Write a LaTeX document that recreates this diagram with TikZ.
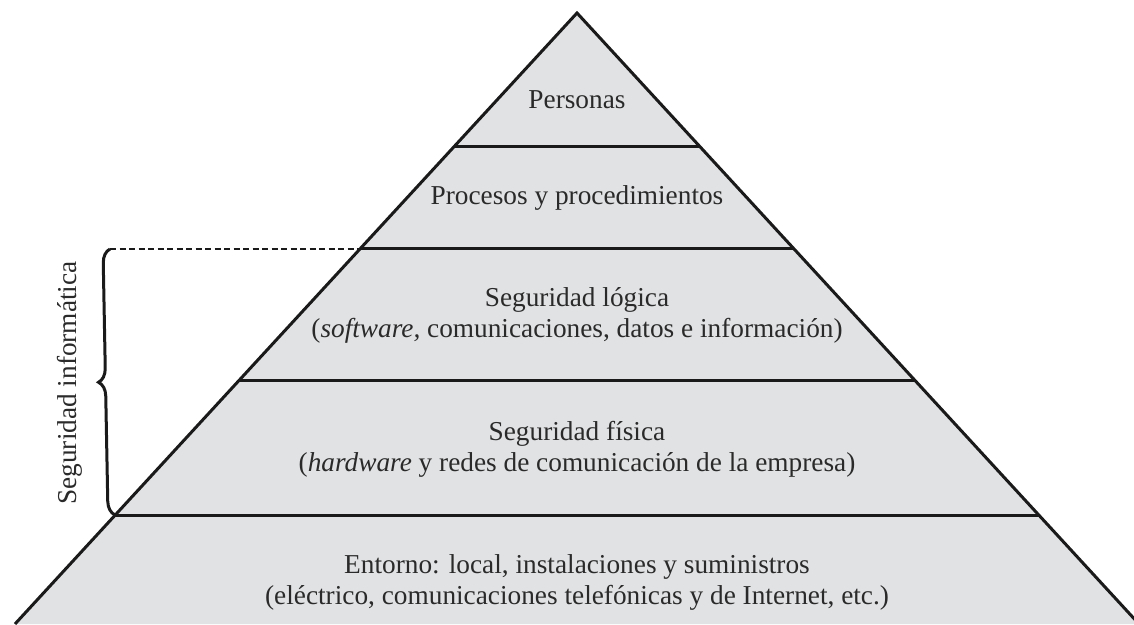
\documentclass[tikz,border=0pt]{standalone}
\usepackage{fontspec}
\setmainfont{Liberation Serif}
\usetikzlibrary{decorations.pathreplacing}
\definecolor{LayerGray}{HTML}{E1E2E4}
\definecolor{InkBlack}{HTML}{1A1A1A}
\definecolor{TextGray}{HTML}{2A2A2A}
\tikzset{%
  layer_fill/.style={%
    fill=LayerGray,%
    draw=none%
  },
  layer_edge/.style={%
    draw=InkBlack,%
    line width=3pt,%
    line join=miter%
  },
  layer_text/.style={%
    text=TextGray,%
    font={\fontsize{27.3}{31}\selectfont},%
    align=center%
  },
  info_brace/.style={%
    draw=InkBlack,%
    line width=3pt,%
    decorate,%
    decoration={brace, amplitude=14pt}%
  },
  info_dash/.style={%
    draw=InkBlack,%
    line width=2.6pt,%
    dash pattern=on 6pt off 3.5pt%
  },
}

\begin{document}
\begin{tikzpicture}[x=1pt, y=1pt]
    \useasboundingbox (0,0) rectangle (1134,624);

    % corners of the pyramid and of each layer
    \coordinate (apex) at (577,611);
    \coordinate (L1) at (454,477);  \coordinate (R1) at (700,477);
    \coordinate (L2) at (360,375);  \coordinate (R2) at (794,375);
    \coordinate (L3) at (238,243);  \coordinate (R3) at (916,243);
    \coordinate (L4) at (115,109);  \coordinate (R4) at (1039,109);
    \coordinate (baseL) at (15,0);  \coordinate (baseR) at (1139,0);

    \fill[layer_fill] (apex) -- (baseL) -- (baseR) -- cycle;
    \draw[layer_edge] (L1) -- (R1);
    \draw[layer_edge] (L2) -- (R2);
    \draw[layer_edge] (L3) -- (R3);
    \draw[layer_edge] (L4) -- (R4);
    \draw[layer_edge] (baseL) -- (apex) -- (baseR);

    % layer labels
    \node[layer_text] (personas) at (577,524) {Personas};
    \node[layer_text] (procesos) at (577,426) {Procesos y procedimientos};
    \node[layer_text] (logica) at (577,309)
      {Seguridad lógica\\(\textit{software,} comunicaciones, datos e información)};
    \node[layer_text] (fisica) at (577,175)
      {Seguridad física\\(\textit{hardware} y redes de comunicación de la empresa)};
    \node[layer_text] (entorno) at (577,42)
      {Entorno: local, instalaciones y suministros\\(eléctrico, comunicaciones telefónicas y de Internet, etc.)};

    % bracket for the two security layers
    \coordinate (braceTop) at (110,375);
    \draw[info_dash] (braceTop) -- (L2);
    \draw[info_brace] (L4) -- (braceTop);
    \node[layer_text, rotate=90] (informatica) at (70,241) {Seguridad informática};
\end{tikzpicture}
\end{document}
